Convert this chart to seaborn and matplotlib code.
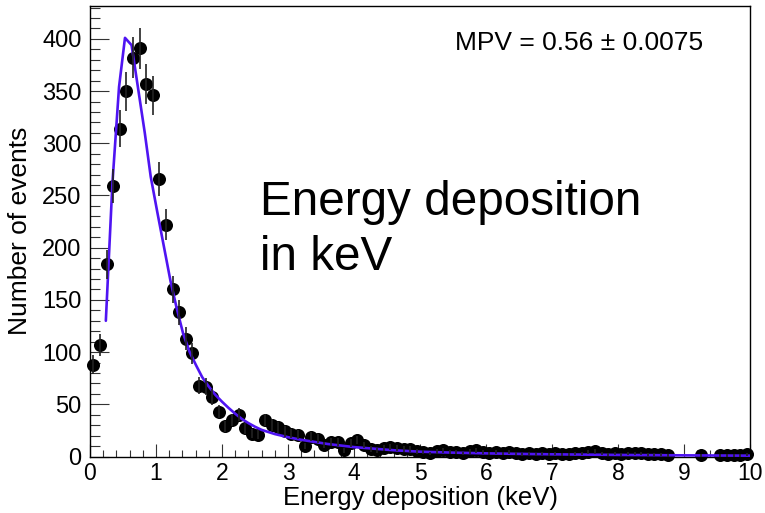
import numpy as np
import pandas as pd
import matplotlib
matplotlib.use("Agg")
import matplotlib.pyplot as plt
import seaborn as sns
from matplotlib.ticker import MultipleLocator

# Histogram binning: 100 bins from 0 to 10 keV
bin_lo, bin_hi, n_bins = 0.0, 10.0, 100

# Entries per bin (empty bins are not drawn)
counts = [
    88, 107, 184, 259, 314, 350, 382, 391, 357, 346,
    266, 222, 160, 138, 113, 99, 68, 67, 57, 43,
    29, 35, 40, 27, 22, 21, 35, 30, 28, 24,
    22, 21, 10, 19, 17, 11, 14, 14, 6, 13,
    16, 11, 7, 6, 8, 9, 8, 7, 7, 5,
    4, 3, 5, 6, 4, 4, 3, 5, 6, 4,
    3, 4, 3, 4, 3, 2, 3, 2, 3, 2,
    3, 2, 2, 3, 3, 4, 5, 3, 2, 3,
    2, 3, 3, 3, 2, 2, 2, 1, 0, 0,
    0, 0, 1, 0, 0, 1, 1, 1, 1, 2,
]

# Landau fit curve (energy in keV, expected events)
fit_energy = [0.24, 0.34, 0.44, 0.53, 0.63, 0.73, 0.83, 0.92, 1.02, 1.12,
              1.22, 1.31, 1.41, 1.51, 1.61, 1.70, 1.80, 1.90, 2.00, 2.10,
              2.20, 2.30, 2.40, 2.50, 2.60, 2.80, 3.00, 3.20, 3.40, 3.60,
              3.80, 4.00, 4.30, 4.60, 5.00, 5.50, 6.00, 6.50, 7.00, 8.00,
              9.00, 10.00]
fit_events = [130, 262, 354, 401, 394, 352, 310, 268, 234, 201,
              168, 143, 118, 100, 87, 76, 67, 59, 52.5, 46.5,
              41, 36, 32, 28.5, 25.5, 21.5, 18.5, 16, 14, 12,
              10.5, 9, 7.5, 6, 4.6, 3.7, 3.0, 2.5, 2.1, 1.5,
              1.1, 0.8]

mpv_label = "MPV = 0.56 \u00b1 0.0075"

sns.set_theme(style="ticks")
plt.rcParams["font.family"] = ["Liberation Sans", "DejaVu Sans"]
plt.rcParams["text.color"] = "black"
plt.rcParams["axes.labelcolor"] = "black"

width = (bin_hi - bin_lo) / n_bins
centers = bin_lo + width * (np.arange(n_bins) + 0.5)
hist = pd.DataFrame({"energy": centers, "events": counts})
hist = hist[hist["events"] > 0].copy()
hist["err"] = np.sqrt(hist["events"])

fit = pd.DataFrame({"energy": fit_energy, "events": fit_events})

fig = plt.figure(figsize=(7.65, 5.13), dpi=100)
ax = fig.add_axes([90 / 765, 1 - 456.5 / 513, 660 / 765, 450.5 / 513])

sns.scatterplot(data=hist, x="energy", y="events", color="black", s=88,
                linewidth=0, ax=ax, zorder=3, clip_on=False, legend=False)
sns.lineplot(data=fit, x="energy", y="events", color="#4f14f2", lw=1.9,
             sort=False, ax=ax, zorder=4)
ax.vlines(hist["energy"], hist["events"] - hist["err"], hist["events"] + hist["err"],
          color="#222222", lw=1.2, zorder=5)

ax.set_xlim(0, 10)
ax.set_ylim(0, 431.5)
ax.xaxis.set_major_locator(MultipleLocator(1))
ax.xaxis.set_minor_locator(MultipleLocator(0.2))
ax.yaxis.set_major_locator(MultipleLocator(50))
ax.yaxis.set_minor_locator(MultipleLocator(10))

ax.tick_params(which="both", direction="in", top=False, right=False,
               color="#333333", width=0.8, labelsize=17, labelcolor="black")
ax.tick_params(axis="x", which="major", length=9.1, pad=4, labelsize=16.5)
ax.tick_params(axis="x", which="minor", length=4.8)
ax.tick_params(axis="y", which="major", length=13.7, pad=6)
ax.tick_params(axis="y", which="minor", length=7.2)

for side in ["left", "bottom", "top", "right"]:
    ax.spines[side].set_visible(True)
    ax.spines[side].set_color("black")
    ax.spines[side].set_linewidth(1.0)

ax.set_xlabel("Energy deposition (keV)", fontsize=18.5, va="baseline")
ax.xaxis.set_label_coords((421 - 90) / 660, (456.5 - 505) / 450.5)
ax.set_ylabel("Number of events", fontsize=19, va="center")
ax.yaxis.set_label_coords((20 - 90) / 660, 0.5)

ax.text((455 - 90) / 660, (456.5 - 50.5) / 450.5, mpv_label, transform=ax.transAxes,
        fontsize=19, ha="left", va="baseline")
ax.text((260 - 90) / 660, (456.5 - 215) / 450.5, "Energy deposition",
        transform=ax.transAxes, fontsize=34.3, ha="left", va="baseline")
ax.text((260 - 90) / 660, (456.5 - 270) / 450.5, "in keV",
        transform=ax.transAxes, fontsize=34.3, ha="left", va="baseline")

fig.savefig("out.png", dpi=100, facecolor="white")
